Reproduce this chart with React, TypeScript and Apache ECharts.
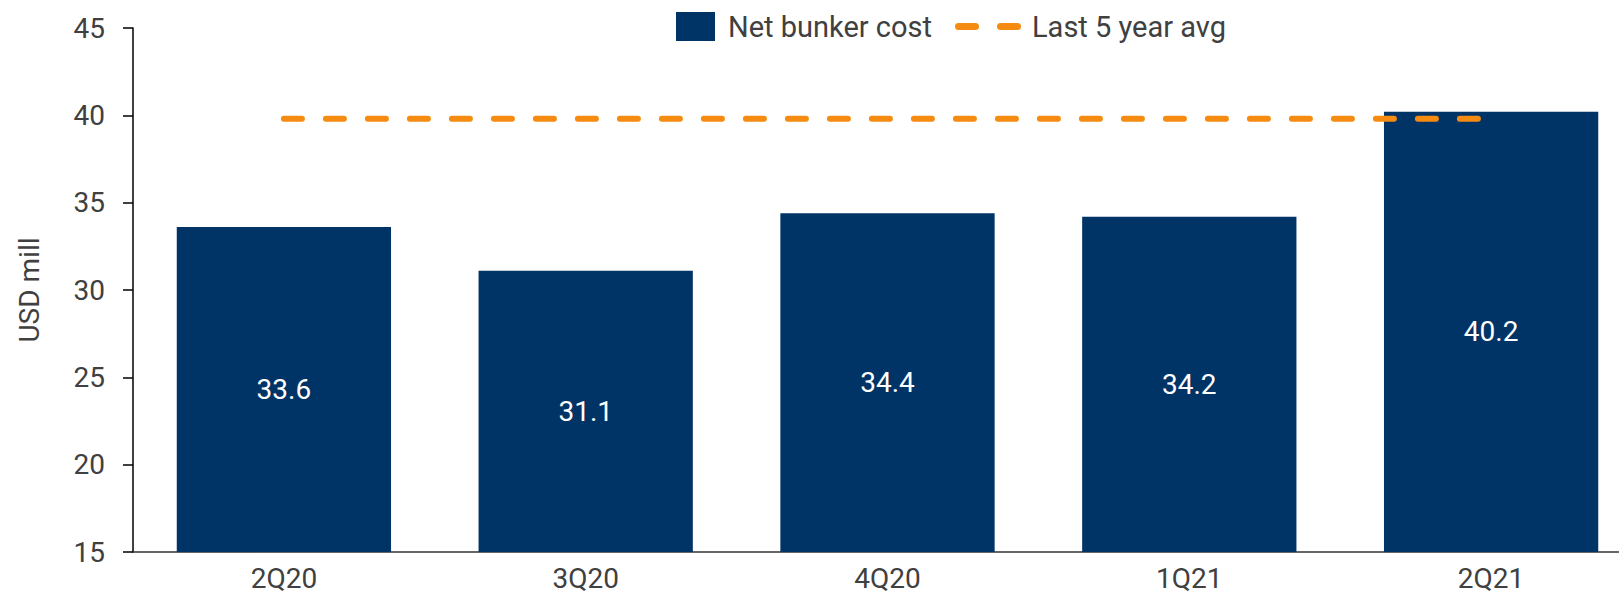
import React, { useEffect, useRef } from "react";
import * as echarts from "echarts";

const categories = ["2Q20", "3Q20", "4Q20", "1Q21", "2Q21"];
const netBunkerCost = [33.6, 31.1, 34.4, 34.2, 40.2];
const fiveYearAvg = [39.8, 39.8, 39.8, 39.8, 39.8];
const yTicks = { min: 15, max: 45, interval: 5 };

const FONT = "Roboto";
const TEXT = "#404040";
const BAR = "#003366";
const ORANGE = "#F68B12";

export default function App() {
  const ref = useRef<HTMLDivElement>(null);
  useEffect(() => {
    if (!ref.current) return;
    const chart = echarts.init(ref.current, null, { renderer: "svg" });
    chart.setOption({
      animation: false,
      textStyle: { fontFamily: FONT },
      grid: { left: 133, top: 28, bottom: 41, width: 1509 },
      legend: [
        {
          left: 676,
          top: 12,
          padding: 0,
          itemWidth: 39,
          itemHeight: 29,
          icon: "rect",
          data: ["Net bunker cost"],
          textStyle: { fontSize: 29, color: TEXT, fontFamily: FONT, padding: [0, 0, 0, 8] },
        },
        {
          left: 955,
          top: 12,
          padding: 0,
          itemWidth: 66,
          itemHeight: 7,
          data: [
            {
              name: "Last 5 year avg",
              icon: "path://M3.5,0H20.5A3.5,3.5 0 0 1 20.5,7H3.5A3.5,3.5 0 0 1 3.5,0Z M45.5,0H62.5A3.5,3.5 0 0 1 62.5,7H45.5A3.5,3.5 0 0 1 45.5,0Z",
            },
          ],
          textStyle: { fontSize: 29, color: TEXT, fontFamily: FONT, padding: [0, 0, 0, 6] },
        },
      ],
      xAxis: {
        type: "category",
        data: categories,
        axisLine: { show: true, lineStyle: { color: "#333", width: 1.5 } },
        axisTick: { show: false },
        axisLabel: { fontSize: 28, color: TEXT, fontFamily: FONT, margin: 12 },
      },
      yAxis: {
        type: "value",
        min: yTicks.min,
        max: yTicks.max,
        interval: yTicks.interval,
        name: "USD mill",
        nameLocation: "middle",
        nameRotate: 90,
        nameGap: 90,
        nameTextStyle: { fontSize: 28, color: TEXT, fontFamily: FONT },
        axisLine: { show: true, lineStyle: { color: "#000", width: 1.5 } },
        axisTick: { show: true, length: 10, lineStyle: { color: "#000", width: 1.5 } },
        splitLine: { show: false },
        axisLabel: { fontSize: 28, color: TEXT, fontFamily: FONT, margin: 28 },
      },
      series: [
        {
          name: "Net bunker cost",
          type: "bar",
          data: netBunkerCost,
          barCategoryGap: "29%",
          itemStyle: { color: BAR },
          label: {
            show: true,
            position: "inside",
            color: "#fff",
            fontSize: 28,
            fontFamily: FONT,
            formatter: (p: any) => Number(p.value).toFixed(1),
          },
        },
        {
          name: "Last 5 year avg",
          type: "line",
          data: fiveYearAvg,
          symbol: "none",
          color: ORANGE,
          lineStyle: { color: ORANGE, width: 6, type: [18, 24], cap: "round" },
        },
      ],
    });
    return () => chart.dispose();
  }, []);
  return (
    <div
      style={{ position: "fixed", left: 0, top: 0, width: 1619, height: 593, overflow: "hidden", background: "#fff" }}
    >
      <div ref={ref} style={{ width: 1660, height: 593 }} />
    </div>
  );
}
